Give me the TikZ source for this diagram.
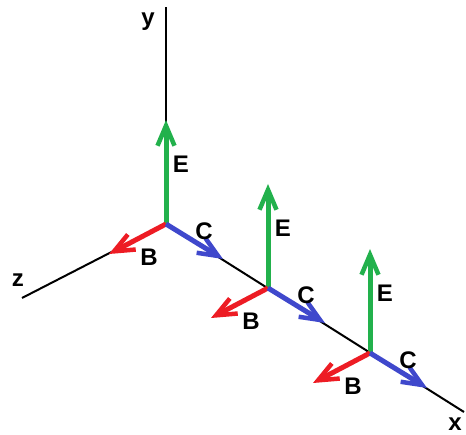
\documentclass[tikz,border=0pt]{standalone}
\usepackage{fontspec}
\setmainfont{Liberation Sans}
\usetikzlibrary{arrows.meta,calc}
\definecolor{fieldE}{RGB}{34,177,76}
\definecolor{fieldB}{RGB}{237,28,36}
\definecolor{fieldC}{RGB}{63,72,204}
\tikzset{
  axis/.style={black, line width=2pt},
  vec/.style={line width=5pt, -{Straight Barb[length=20pt,width=17pt,line width=4.5pt]}},
  lbl/.style={font=\fontsize{24}{28}\selectfont\bfseries, inner sep=0pt}
}

\begin{document}
\begin{tikzpicture}[x=1pt,y=-1pt]
\useasboundingbox (0,0) rectangle (466,435);
% Axes
\coordinate (O1) at (166,224);
\coordinate (yend) at (166,7);
\coordinate (zend) at (22,298);
\coordinate (xend) at (464,412);
\draw[axis] (O1) -- (yend);
\draw[axis] (O1) -- (zend);
\draw[axis] (O1) -- (xend);
\node[lbl] (ylab) at (148,22) {y};
\node[lbl] (zlab) at (18,280) {z};
\node[lbl] (xlab) at (455,424) {x};

% Field vectors at three points on the x axis
\foreach \i/\px/\py in {1/166/224, 2/268/288, 3/370/353} {
  \coordinate (O\i) at (\px,\py);
  \path (O\i) ++(0,-104) coordinate (E\i);
  \path (O\i) ++(57,35) coordinate (C\i);
  \path (O\i) ++(-57,30) coordinate (B\i);
  \draw[vec, fieldE] (O\i) -- (E\i);
  \draw[vec, fieldB] (O\i) -- (B\i);
  \draw[vec, fieldC] (O\i) -- (C\i);
  \node[lbl] (Elab\i) at ($(O\i)+(15,-60)$) {E};
  \node[lbl] (Clab\i) at ($(O\i)+(38,7)$) {C};
  \node[lbl] (Blab\i) at ($(O\i)+(-17,33)$) {B};
}
\end{tikzpicture}
\end{document}
